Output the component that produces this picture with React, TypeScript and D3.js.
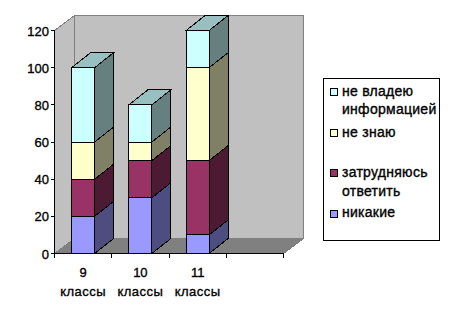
import React from "react";
import * as d3 from "d3";

const classes = ["9", "10", "11"];
const classWord = "классы";
const seriesNames = ["никакие", "затрудняюсь", "не знаю", "не владею"];
const nikakie = [20, 30, 10];
const zatrud = [20, 20, 40];
const neZnayu = [20, 10, 50];
const neVladeyu = [40, 20, 20];
const frontColors = ["#9999FF", "#993366", "#FFFFCC", "#CCFFFF"];
const sideColors = ["#4D4D80", "#4D1A33", "#808066", "#668080"];
const topColor = "#99C0C0";
const yTicks = [0, 20, 40, 60, 80, 100, 120];

const W = 450, H = 319;
const x0 = 54.5, x1 = 283.5, yBase = 253.5, yTop = 30.5;
const wallDx = 20, wallDy = 15, barDx = 19, barDy = 15;
const barW = 23;
const FONT = "'Liberation Sans', Arial, sans-serif";

const rows = classes.map((c, i) => ({
  c,
  [seriesNames[0]]: nikakie[i],
  [seriesNames[1]]: zatrud[i],
  [seriesNames[2]]: neZnayu[i],
  [seriesNames[3]]: neVladeyu[i],
}));
const stacked = d3.stack<any>().keys(seriesNames)(rows as any);

const y = d3.scaleLinear().domain([0, 120]).range([yBase, yTop]);
// Four category slots: the fourth is empty in the source chart
const x = d3.scaleBand<string>().domain([...classes, ""]).range([x0, x1]);

const pts = (p: number[][]) => p.map((a) => a.join(",")).join(" ");

const legend = [
  { i: 3, lines: ["не владею", "информацией"], sy: 91.5, ty: [96, 114] },
  { i: 2, lines: ["не знаю"], sy: 133, ty: [137] },
  { i: 1, lines: ["затрудняюсь", "ответить"], sy: 173, ty: [177, 196] },
  { i: 0, lines: ["никакие"], sy: 213.5, ty: [217] },
];

export default function App() {
  const textStyle = { fontFamily: FONT, fontSize: 13, fill: "#000", stroke: "#000", strokeWidth: 0.35 };
  return (
    <svg width={W} height={H} style={{ position: "absolute", left: 0, top: 0 }}>
      <rect width={W} height={H} fill="#fff" />
      <g shapeRendering="crispEdges">
        <polygon points={pts([[x0 + wallDx, yTop - wallDy], [x1 + wallDx, yTop - wallDy], [x1 + wallDx, yBase - wallDy], [x0 + wallDx, yBase - wallDy]])} fill="#C0C0C0" stroke="#808080" />
        <polygon points={pts([[x0, yTop], [x0 + wallDx, yTop - wallDy], [x0 + wallDx, yBase - wallDy], [x0, yBase]])} fill="#C0C0C0" stroke="#808080" />
        <polygon points={pts([[x0, yBase], [x0 + wallDx, yBase - wallDy], [x1 + wallDx, yBase - wallDy], [x1, yBase]])} fill="#808080" stroke="#808080" />
        {classes.map((c) => {
          const bx = x(c)! + (x.bandwidth() - barW) / 2;
          return (
            <g key={c} stroke="#000">
              {stacked.map((s, si) => {
                const d = s[classes.indexOf(c)];
                const yb = y(d[0]), yt = y(d[1]);
                return (
                  <g key={si}>
                    <polygon points={pts([[bx + barW, yb], [bx + barW + barDx, yb - barDy], [bx + barW + barDx, yt - barDy], [bx + barW, yt]])} fill={sideColors[si]} />
                    <rect x={bx} y={yt} width={barW} height={yb - yt} fill={frontColors[si]} />
                    {si === stacked.length - 1 && (
                      <polygon points={pts([[bx, yt], [bx + barDx, yt - barDy], [bx + barW + barDx, yt - barDy], [bx + barW, yt]])} fill={topColor} />
                    )}
                  </g>
                );
              })}
            </g>
          );
        })}
        <line x1={x0} x2={x0} y1={yTop} y2={yBase} stroke="#000" />
        <line x1={x0} x2={x1} y1={yBase} y2={yBase} stroke="#000" />
        {yTicks.map((t) => (
          <line key={t} x1={x0 - 4} x2={x0} y1={y(t)} y2={y(t)} stroke="#000" />
        ))}
        {[...x.domain(), "end"].map((d, i) => {
          const px = x0 + i * x.bandwidth();
          return <line key={i} x1={px} x2={px} y1={yBase} y2={yBase + 4} stroke="#000" />;
        })}
      </g>
      {yTicks.map((t) => (
        <text key={t} x={49} y={y(t) + 5} textAnchor="end" style={textStyle}>{t}</text>
      ))}
      {classes.map((c) => {
        const cx = x(c)! + x.bandwidth() / 2;
        return (
          <g key={c}>
            <text x={cx} y={277} textAnchor="middle" style={textStyle}>{c}</text>
            <text x={cx} y={296} textAnchor="middle" style={{ ...textStyle, letterSpacing: 0.5 }}>{classWord}</text>
          </g>
        );
      })}
      <rect x={323.5} y={78.5} width={116} height={162} fill="#fff" stroke="#000" shapeRendering="crispEdges" />
      {legend.map((l) => (
        <g key={l.i}>
          <rect x={330.5} y={l.sy - 3.5} width={7} height={7} fill={frontColors[l.i]} stroke="#000" shapeRendering="crispEdges" />
          {l.lines.map((t, k) => (
            <text key={k} x={342} y={l.ty[k]} style={{ ...textStyle, fontSize: 14, letterSpacing: 0.27 }}>{t}</text>
          ))}
        </g>
      ))}
    </svg>
  );
}
